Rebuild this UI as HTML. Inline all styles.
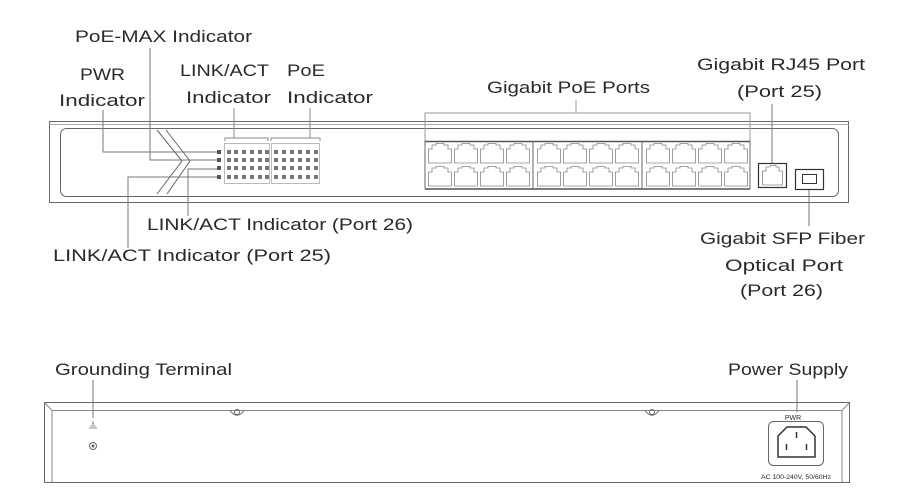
<!DOCTYPE html>
<html><head><meta charset="utf-8"><style>
html,body{margin:0;padding:0;background:#fff}
svg{display:block}
text{font-family:"Liberation Sans",sans-serif;fill:#2a2a2a}
</style></head><body>
<svg width="902" height="500" viewBox="0 0 902 500" xmlns="http://www.w3.org/2000/svg">
<defs>
<g id="rj">
<path d="M0.5,20 V6 H4 V2 H8 V0.5 H16 V2 H20 V6 H23.5 V20 Z" fill="none" stroke="#888" stroke-width="0.8"/>
</g>
</defs>
<g font-size="17">
<text x="75" y="42" textLength="177" lengthAdjust="spacingAndGlyphs">PoE-MAX Indicator</text>
<text x="80" y="80" textLength="45" lengthAdjust="spacingAndGlyphs">PWR</text>
<text x="59" y="106" textLength="86" lengthAdjust="spacingAndGlyphs">Indicator</text>
<text x="180" y="76" textLength="89" lengthAdjust="spacingAndGlyphs">LINK/ACT</text>
<text x="186" y="103" textLength="85" lengthAdjust="spacingAndGlyphs">Indicator</text>
<text x="287" y="76" textLength="38" lengthAdjust="spacingAndGlyphs">PoE</text>
<text x="287" y="103" textLength="86" lengthAdjust="spacingAndGlyphs">Indicator</text>
<text x="487" y="93" textLength="163" lengthAdjust="spacingAndGlyphs">Gigabit PoE Ports</text>
<text x="697" y="70" textLength="168" lengthAdjust="spacingAndGlyphs">Gigabit RJ45 Port</text>
<text x="737" y="97" textLength="85" lengthAdjust="spacingAndGlyphs">(Port 25)</text>
<text x="147" y="230" textLength="266" lengthAdjust="spacingAndGlyphs">LINK/ACT Indicator (Port 26)</text>
<text x="53" y="261" textLength="278" lengthAdjust="spacingAndGlyphs">LINK/ACT Indicator (Port 25)</text>
<text x="700" y="244" textLength="165" lengthAdjust="spacingAndGlyphs">Gigabit SFP Fiber</text>
<text x="725" y="271" textLength="118" lengthAdjust="spacingAndGlyphs">Optical Port</text>
<text x="740" y="296" textLength="83" lengthAdjust="spacingAndGlyphs">(Port 26)</text>
<text x="55" y="375" textLength="177" lengthAdjust="spacingAndGlyphs">Grounding Terminal</text>
<text x="728" y="375" textLength="120" lengthAdjust="spacingAndGlyphs">Power Supply</text>
</g>
<g fill="none" stroke="#666" stroke-width="1">
<rect x="49.5" y="121.5" width="799" height="81"/>
<line x1="49.5" y1="124.5" x2="848.5" y2="124.5" stroke="#aaa"/>
<rect x="60.5" y="128.5" width="778" height="68" rx="6"/>
<polyline points="157,130 182,161 157,194"/>
<polyline points="166,130 190,161 167,194"/>
<polyline points="103,110 103,152 219,152" stroke="#777"/>
<polyline points="150,48 150,160 219,160" stroke="#777"/>
<polyline points="128,248 128,177 219,177" stroke="#777"/>
<polyline points="188,216 188,169 219,169" stroke="#777"/>
<polyline points="225,141 225,138 268,138 268,141" stroke="#888"/>
<line x1="234" y1="108" x2="234" y2="138" stroke="#888"/>
<polyline points="271,141 271,138 320,138 320,141" stroke="#888"/>
<line x1="310" y1="108" x2="310" y2="138" stroke="#888"/>
<rect x="224.5" y="143.5" width="45" height="40" stroke="#bbb"/>
<rect x="271.5" y="143.5" width="48" height="40" stroke="#bbb"/>
<polyline points="425,141 425,113 750,113 750,141" stroke="#999"/>
<line x1="576" y1="100" x2="576" y2="113" stroke="#999"/>
<line x1="772" y1="104" x2="772" y2="163" stroke="#777"/>
<line x1="809" y1="190" x2="809" y2="226" stroke="#777"/>
<line x1="425" y1="141.5" x2="750" y2="141.5" stroke="#555" stroke-width="1.5"/>
<line x1="425" y1="189" x2="750" y2="189" stroke="#555" stroke-width="1.5"/>
<line x1="425" y1="141" x2="425" y2="189"/>
<line x1="533" y1="141" x2="533" y2="189"/>
<line x1="642" y1="141" x2="642" y2="189"/>
<line x1="750" y1="141" x2="750" y2="189"/>
</g>
<rect x="758.5" y="163.5" width="28" height="24" fill="#fff" stroke="#333" stroke-width="1.2"/>
<path d="M762.5,185 V171 H766 V167 H770 V165.5 H776 V167 H779 V171 H782.5 V185 Z" fill="none" stroke="#888" stroke-width="0.8"/>
<rect x="795.5" y="169.5" width="28" height="20" fill="#fff" stroke="#333" stroke-width="1.2"/>
<rect x="802.5" y="174.5" width="14" height="9" fill="none" stroke="#333"/>
<g fill="#555">
<rect x="217" y="150" width="4" height="4"/><rect x="217" y="158" width="4" height="4"/>
<rect x="217" y="166" width="4" height="4"/><rect x="217" y="175" width="4" height="4"/>
</g>
<g fill="#777">
<rect x="227" y="150" width="4" height="4"/><rect x="234" y="150" width="4" height="4"/><rect x="242" y="150" width="4" height="4"/><rect x="250" y="150" width="4" height="4"/><rect x="258" y="150" width="4" height="4"/><rect x="265" y="150" width="4" height="4"/>
<rect x="274" y="150" width="4" height="4"/><rect x="282" y="150" width="4" height="4"/><rect x="290" y="150" width="4" height="4"/><rect x="298" y="150" width="4" height="4"/><rect x="306" y="150" width="4" height="4"/><rect x="314" y="150" width="4" height="4"/>
<rect x="227" y="158" width="4" height="4"/><rect x="234" y="158" width="4" height="4"/><rect x="242" y="158" width="4" height="4"/><rect x="250" y="158" width="4" height="4"/><rect x="258" y="158" width="4" height="4"/><rect x="265" y="158" width="4" height="4"/>
<rect x="274" y="158" width="4" height="4"/><rect x="282" y="158" width="4" height="4"/><rect x="290" y="158" width="4" height="4"/><rect x="298" y="158" width="4" height="4"/><rect x="306" y="158" width="4" height="4"/><rect x="314" y="158" width="4" height="4"/>
<rect x="227" y="166" width="4" height="4"/><rect x="234" y="166" width="4" height="4"/><rect x="242" y="166" width="4" height="4"/><rect x="250" y="166" width="4" height="4"/><rect x="258" y="166" width="4" height="4"/><rect x="265" y="166" width="4" height="4"/>
<rect x="274" y="166" width="4" height="4"/><rect x="282" y="166" width="4" height="4"/><rect x="290" y="166" width="4" height="4"/><rect x="298" y="166" width="4" height="4"/><rect x="306" y="166" width="4" height="4"/><rect x="314" y="166" width="4" height="4"/>
<rect x="227" y="175" width="4" height="4"/><rect x="234" y="175" width="4" height="4"/><rect x="242" y="175" width="4" height="4"/><rect x="250" y="175" width="4" height="4"/><rect x="258" y="175" width="4" height="4"/><rect x="265" y="175" width="4" height="4"/>
<rect x="274" y="175" width="4" height="4"/><rect x="282" y="175" width="4" height="4"/><rect x="290" y="175" width="4" height="4"/><rect x="298" y="175" width="4" height="4"/><rect x="306" y="175" width="4" height="4"/><rect x="314" y="175" width="4" height="4"/>
</g>
<g>
<use href="#rj" x="428" y="143"/><use href="#rj" x="454" y="143"/><use href="#rj" x="480" y="143"/><use href="#rj" x="506" y="143"/>
<use href="#rj" x="537" y="143"/><use href="#rj" x="563" y="143"/><use href="#rj" x="589" y="143"/><use href="#rj" x="615" y="143"/>
<use href="#rj" x="646" y="143"/><use href="#rj" x="672" y="143"/><use href="#rj" x="698" y="143"/><use href="#rj" x="724" y="143"/>
<use href="#rj" x="428" y="166"/><use href="#rj" x="454" y="166"/><use href="#rj" x="480" y="166"/><use href="#rj" x="506" y="166"/>
<use href="#rj" x="537" y="166"/><use href="#rj" x="563" y="166"/><use href="#rj" x="589" y="166"/><use href="#rj" x="615" y="166"/>
<use href="#rj" x="646" y="166"/><use href="#rj" x="672" y="166"/><use href="#rj" x="698" y="166"/><use href="#rj" x="724" y="166"/>
</g>
<g fill="none" stroke="#666" stroke-width="1">
<rect x="44.5" y="402.5" width="805" height="80"/>
<polyline points="44.5,402.5 52,410.5 842,410.5 849.5,402.5" stroke="#888"/>
<line x1="52" y1="410.5" x2="52" y2="482" stroke="#888"/>
<line x1="842" y1="410.5" x2="842" y2="482" stroke="#888"/>
<path d="M230,410.5 Q237,420 244,410.5"/><circle cx="237" cy="412" r="2.5"/>
<path d="M645,410.5 Q652,420 659,410.5"/><circle cx="652" cy="412" r="2.5"/>
<line x1="93" y1="380" x2="93" y2="418" stroke="#777"/>
<path d="M89,428 H97 M90.5,426 H95.5 M92,424 H94 M93,421 V424" stroke-width="0.8"/>
<circle cx="93" cy="446" r="3.5"/><circle cx="93" cy="446" r="1" fill="#666"/>
<line x1="797" y1="380" x2="797" y2="412" stroke="#777"/>
<rect x="768.5" y="421.5" width="55" height="44" rx="5"/>
<path d="M778,436 L787,427 H806 L815,436 V457 H778 Z" stroke="#333" stroke-width="1.5"/>
<line x1="796.5" y1="432" x2="796.5" y2="438" stroke="#333" stroke-width="1.5"/>
<line x1="786.5" y1="444" x2="786.5" y2="450" stroke="#333" stroke-width="1.5"/>
<line x1="806.5" y1="444" x2="806.5" y2="450" stroke="#333" stroke-width="1.5"/>
</g>
<text x="793" y="420" font-size="7" text-anchor="middle">PWR</text>
<text x="796" y="479" font-size="6.5" text-anchor="middle" textLength="70" lengthAdjust="spacingAndGlyphs">AC 100-240V, 50/60Hz</text>
</svg>
</body></html>
